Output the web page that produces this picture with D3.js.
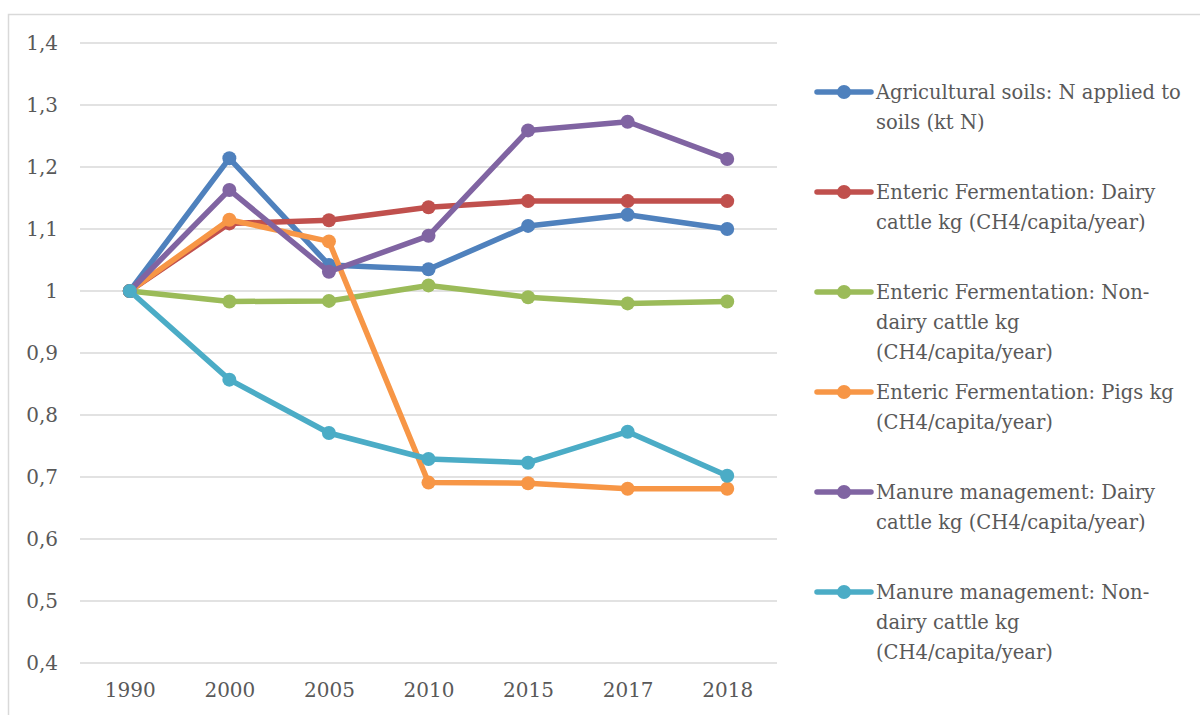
<!DOCTYPE html>
<html>
<head>
<meta charset="utf-8">
<script src="https://cdn.jsdelivr.net/npm/d3@7"></script>
<style>
  body { margin: 0; background: #fff; }
  text { font-family: "DejaVu Serif", serif; fill: #595959; }
</style>
</head>
<body>
<div id="chart"></div>
<script>
// données
const years = ["1990", "2000", "2005", "2010", "2015", "2017", "2018"];
const yTicks = [0.4, 0.5, 0.6, 0.7, 0.8, 0.9, 1.0, 1.1, 1.2, 1.3, 1.4];

const agriSoils   = [1.0, 1.214, 1.042, 1.035, 1.105, 1.123, 1.100];
const entDairy    = [1.0, 1.109, 1.114, 1.135, 1.145, 1.145, 1.145];
const entNonDairy = [1.0, 0.983, 0.984, 1.009, 0.990, 0.980, 0.983];
const entPigs     = [1.0, 1.115, 1.080, 0.691, 0.690, 0.681, 0.681];
const manDairy    = [1.0, 1.163, 1.031, 1.089, 1.259, 1.273, 1.213];
const manNonDairy = [1.0, 0.857, 0.771, 0.729, 0.723, 0.773, 0.702];

const series = [
  { lines: ["Agricultural soils: N applied to", "soils (kt N)"], color: "#4F81BD", values: agriSoils },
  { lines: ["Enteric Fermentation: Dairy", "cattle kg (CH4/capita/year)"], color: "#C0504D", values: entDairy },
  { lines: ["Enteric Fermentation: Non-", "dairy cattle kg", "(CH4/capita/year)"], color: "#9BBB59", values: entNonDairy },
  { lines: ["Enteric Fermentation: Pigs kg", "(CH4/capita/year)"], color: "#F79646", values: entPigs },
  { lines: ["Manure management: Dairy", "cattle kg (CH4/capita/year)"], color: "#8064A2", values: manDairy },
  { lines: ["Manure management: Non-", "dairy cattle kg", "(CH4/capita/year)"], color: "#4BACC6", values: manNonDairy }
];

const W = 1200, H = 715;

const svg = d3.select("#chart").append("svg")
  .attr("width", W)
  .attr("height", H);

// cadre du graphique
svg.append("rect")
  .attr("x", 8.5).attr("y", 14.5)
  .attr("width", W).attr("height", H)
  .attr("fill", "none")
  .attr("stroke", "#d9d9d9")
  .attr("stroke-width", 1.5);

const x = d3.scalePoint()
  .domain(years)
  .range([80, 777])
  .padding(0.5);

const y = d3.scaleLinear()
  .domain([0.4, 1.4])
  .range([663, 43]);

const fmt = v => d3.format("~g")(+v.toFixed(1)).replace(".", ",");

// grille
svg.append("g")
  .selectAll("line")
  .data(yTicks)
  .join("line")
  .attr("x1", 80).attr("x2", 777)
  .attr("y1", d => y(d)).attr("y2", d => y(d))
  .attr("stroke", "#d9d9d9")
  .attr("stroke-width", 1.5);

// axe Y
const yAxis = svg.append("g")
  .attr("transform", "translate(80,0)")
  .call(d3.axisLeft(y).tickValues(yTicks).tickFormat(fmt).tickSize(0).tickPadding(22));
yAxis.select(".domain").remove();
yAxis.selectAll("text")
  .style("font-family", "DejaVu Serif")
  .style("font-size", "20px")
  .attr("fill", "#595959");

// axe X
const xAxis = svg.append("g")
  .attr("transform", "translate(0,663)")
  .call(d3.axisBottom(x).tickSize(0).tickPadding(20));
xAxis.select(".domain").remove();
xAxis.selectAll("text")
  .style("font-family", "DejaVu Serif")
  .style("font-size", "20px")
  .attr("fill", "#595959");

// lignes
const line = d3.line()
  .x((d, i) => x(years[i]))
  .y(d => y(d));

const g = svg.append("g");
series.forEach(s => {
  g.append("path")
    .datum(s.values)
    .attr("d", line)
    .attr("fill", "none")
    .attr("stroke", s.color)
    .attr("stroke-width", 5.5)
    .attr("stroke-linejoin", "round")
    .attr("stroke-linecap", "round");

  g.selectAll(null)
    .data(s.values)
    .join("circle")
    .attr("cx", (d, i) => x(years[i]))
    .attr("cy", d => y(d))
    .attr("r", 7)
    .attr("fill", s.color);
});

// légende
const legend = svg.append("g");
series.forEach((s, i) => {
  const ly = 92 + i * 100;
  const item = legend.append("g").attr("transform", "translate(0," + ly + ")");
  item.append("line")
    .attr("x1", 817).attr("x2", 871)
    .attr("y1", 0).attr("y2", 0)
    .attr("stroke", s.color)
    .attr("stroke-width", 5.5)
    .attr("stroke-linecap", "round");
  item.append("circle")
    .attr("cx", 844).attr("cy", 0)
    .attr("r", 7)
    .attr("fill", s.color);
  item.append("text")
    .attr("x", 876)
    .attr("y", 0)
    .style("font-size", "19.5px")
    .selectAll("tspan")
    .data(s.lines)
    .join("tspan")
    .attr("x", 876)
    .attr("dy", (d, j) => j === 0 ? "0.35em" : "30px")
    .text(d => d);
});
</script>
</body>
</html>
